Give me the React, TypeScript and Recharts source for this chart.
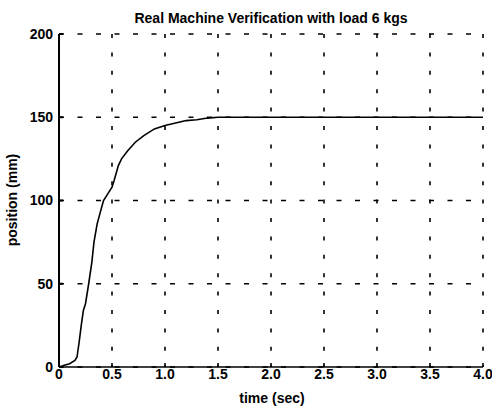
import { CartesianGrid, Line, LineChart, XAxis, YAxis } from "recharts";

// step response measured on the real machine, 6 kg load
const timeSec = [
  0, 0.05, 0.1, 0.15, 0.17, 0.19, 0.21, 0.23, 0.25, 0.28, 0.31, 0.33, 0.36,
  0.39, 0.42, 0.46, 0.5, 0.52, 0.56, 0.59, 0.65, 0.72, 0.8, 0.9, 1.0, 1.1, 1.2,
  1.3, 1.4, 1.5, 2.0, 2.5, 3.0, 3.5, 4.0,
];
const positionMm = [
  0, 1, 2, 4, 6, 15, 25, 34, 38, 50, 63, 75, 86, 93, 100, 104, 108, 112, 121,
  125, 130, 135, 139, 143, 145, 146.5, 148, 148.5, 149.5, 150, 150, 150, 150,
  150, 150,
];
const xTicks = [0, 0.5, 1, 1.5, 2, 2.5, 3, 3.5, 4];
const yTicks = [0, 50, 100, 150, 200];

const chartData = timeSec.map((t, i) => ({ t, pos: positionMm[i] }));

const fontFamily = "'Liberation Sans', Arial, Helvetica, sans-serif";
const tickFont = { fontFamily, fontWeight: 700, fontSize: 14, fill: "#000" };

const fmtTime = (v: number) => (v === 0 ? "0" : v.toFixed(1));

export default function App() {
  return (
    <div style={{ position: "absolute", left: 0, top: 0, background: "#fff" }}>
      <LineChart
        width={492}
        height={406}
        data={chartData}
        margin={{ top: 34, right: 9, bottom: 0, left: 0 }}
      >
        <CartesianGrid
          horizontal={false}
          stroke="#000"
          strokeWidth={1.6}
          strokeDasharray="4 14.4"
        />
        <CartesianGrid
          vertical={false}
          stroke="#000"
          strokeWidth={1.6}
          strokeDasharray="5 13.5"
        />
        <XAxis
          dataKey="t"
          type="number"
          domain={[0, 4]}
          ticks={xTicks}
          tickFormatter={fmtTime}
          height={39}
          tickSize={-4}
          tickMargin={6}
          tick={tickFont}
          stroke="#000"
          strokeWidth={1.6}
        />
        <XAxis
          xAxisId="top"
          orientation="top"
          type="number"
          domain={[0, 4]}
          ticks={xTicks}
          height={0}
          tickSize={-4}
          tick={false}
          stroke="#000"
          strokeWidth={1.2}
        />
        <YAxis
          type="number"
          domain={[0, 200]}
          ticks={yTicks}
          width={59}
          tickSize={-4}
          tickMargin={10}
          tick={tickFont}
          stroke="#000"
          strokeWidth={2}
        />
        <YAxis
          yAxisId="right"
          orientation="right"
          type="number"
          domain={[0, 200]}
          ticks={yTicks}
          width={0}
          tickSize={-4}
          tick={false}
          stroke="#000"
          strokeWidth={1.4}
        />
        <Line
          type="linear"
          dataKey="pos"
          stroke="#000"
          strokeWidth={1.6}
          dot={false}
          isAnimationActive={false}
        />
        <text
          x={271}
          y={23}
          textAnchor="middle"
          fontFamily={fontFamily}
          fontWeight={700}
          fontSize={14}
          fill="#000"
        >
          Real Machine Verification with load 6 kgs
        </text>
        <text
          transform="translate(17,200) rotate(-90)"
          textAnchor="middle"
          fontFamily={fontFamily}
          fontWeight={700}
          fontSize={14}
          fill="#000"
        >
          position (mm)
        </text>
        <text
          x={272}
          y={403}
          textAnchor="middle"
          fontFamily={fontFamily}
          fontWeight={700}
          fontSize={14}
          fill="#000"
        >
          time (sec)
        </text>
      </LineChart>
    </div>
  );
}
